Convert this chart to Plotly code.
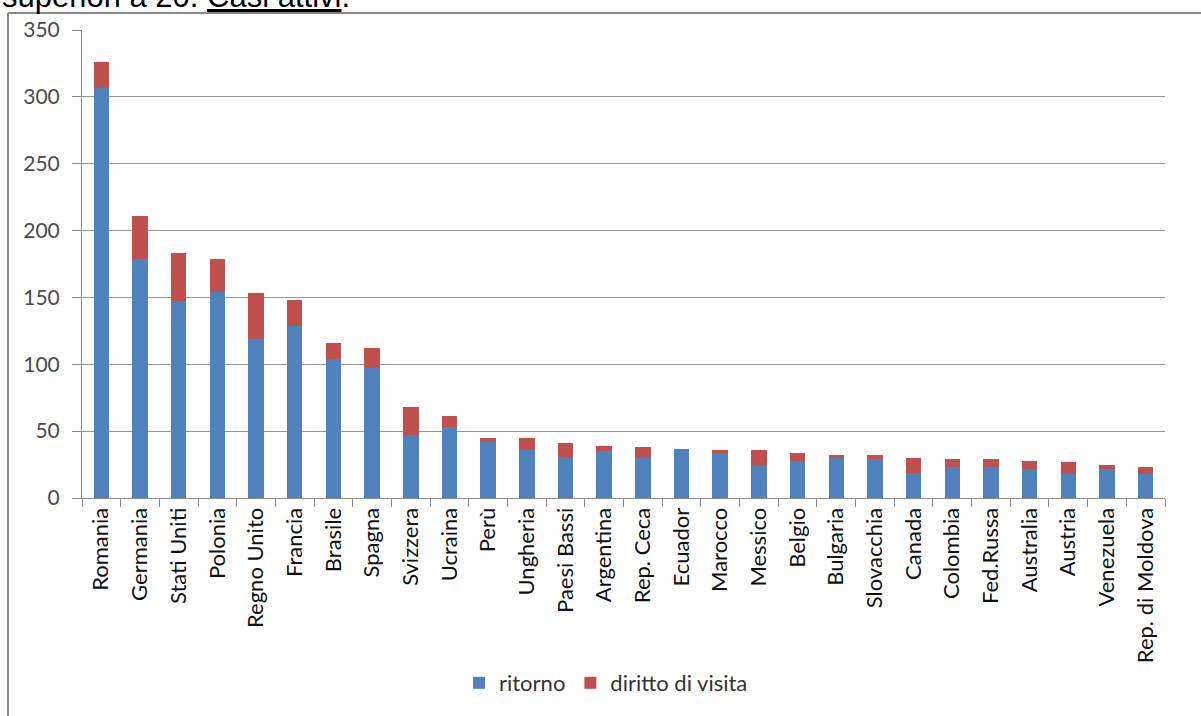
import plotly.graph_objects as go

categories = ["Romania", "Germania", "Stati Uniti", "Polonia", "Regno Unito", "Francia",
              "Brasile", "Spagna", "Svizzera", "Ucraina", "Perù", "Ungheria", "Paesi Bassi",
              "Argentina", "Rep. Ceca", "Ecuador", "Marocco", "Messico", "Belgio", "Bulgaria",
              "Slovacchia", "Canada", "Colombia", "Fed.Russa", "Australia", "Austria",
              "Venezuela", "Rep. di Moldova"]
ritorno = [307, 179, 147, 154, 119, 129, 104, 97, 47, 53, 42, 36, 31, 35, 30, 37, 34, 24,
           28, 30, 29, 19, 23, 23, 22, 18, 22, 18]
diritto_di_visita = [19, 32, 36, 25, 34, 19, 12, 15, 21, 8, 3, 9, 10, 4, 8, 0, 2, 12,
                     6, 2, 3, 11, 6, 6, 6, 9, 3, 5]
y_ticks = [0, 50, 100, 150, 200, 250, 300, 350]

W, H = 1201, 716
L, R, T, B = 82, 36, 30, 218
pw, ph = W - L - R, H - T - B

def px(x):
    return (x - L) / pw

def py(y):
    return (H - B - y) / ph

FONT = "Lato, Open Sans, sans-serif"

fig = go.Figure()
fig.add_trace(go.Bar(x=categories, y=ritorno, name="ritorno", marker_color="#4F81BD",
                     marker_line_width=0))
fig.add_trace(go.Bar(x=categories, y=diritto_di_visita, name="diritto di visita",
                     marker_color="#C0504D", marker_line_width=0))

fig.update_layout(
    width=W, height=H,
    margin=dict(l=L, r=R, t=T, b=B, autoexpand=False),
    barmode="stack", bargap=0.6,
    paper_bgcolor="white", plot_bgcolor="white",
    font=dict(family=FONT, size=20, color="#262626"),
    showlegend=True,
    legend=dict(orientation="h", x=px(606), xanchor="center", y=py(683), yanchor="middle",
                font=dict(family=FONT, size=22, color="#333333"), itemwidth=30,
                traceorder="normal", bgcolor="rgba(0,0,0,0)"),
)
fig.update_xaxes(
    type="category", tickangle=-90, showline=True, linecolor="#8C8C8C", linewidth=1,
    ticks="outside", tickson="boundaries", ticklen=8, tickcolor="#8C8C8C",
    tickfont=dict(family=FONT, size=22, color="#111111"), showgrid=False,
)
fig.update_yaxes(
    range=[0, 350], tickvals=y_ticks, showline=True, linecolor="#8C8C8C", linewidth=1,
    ticks="outside", ticklen=9, tickcolor="#8C8C8C",
    showgrid=True, gridcolor="#969696", gridwidth=1, zeroline=False,
    tickfont=dict(family=FONT, size=21, color="#4a4a4a"), ticklabelstandoff=8,
)

# frame of the embedded chart
fig.add_shape(type="line", xref="paper", yref="paper", x0=px(8), x1=px(8), y0=py(13), y1=py(720),
              line=dict(color="#8A8A8A", width=2))
fig.add_shape(type="line", xref="paper", yref="paper", x0=px(8), x1=px(1205), y0=py(13), y1=py(13),
              line=dict(color="#8A8A8A", width=2))

# cut-off text above the chart (it is cropped in the reference too)
fig.add_annotation(xref="paper", yref="paper", x=px(0), y=py(16), xanchor="left", yanchor="bottom",
                   text="superiori a 20. <u>Casi attivi</u>.", showarrow=False,
                   font=dict(family="Liberation Sans, Arial", size=31, color="black"))

fig.write_html("out.html", config={"displayModeBar": False},
               post_script="document.body.style.margin='0';document.body.style.overflow='hidden';")
